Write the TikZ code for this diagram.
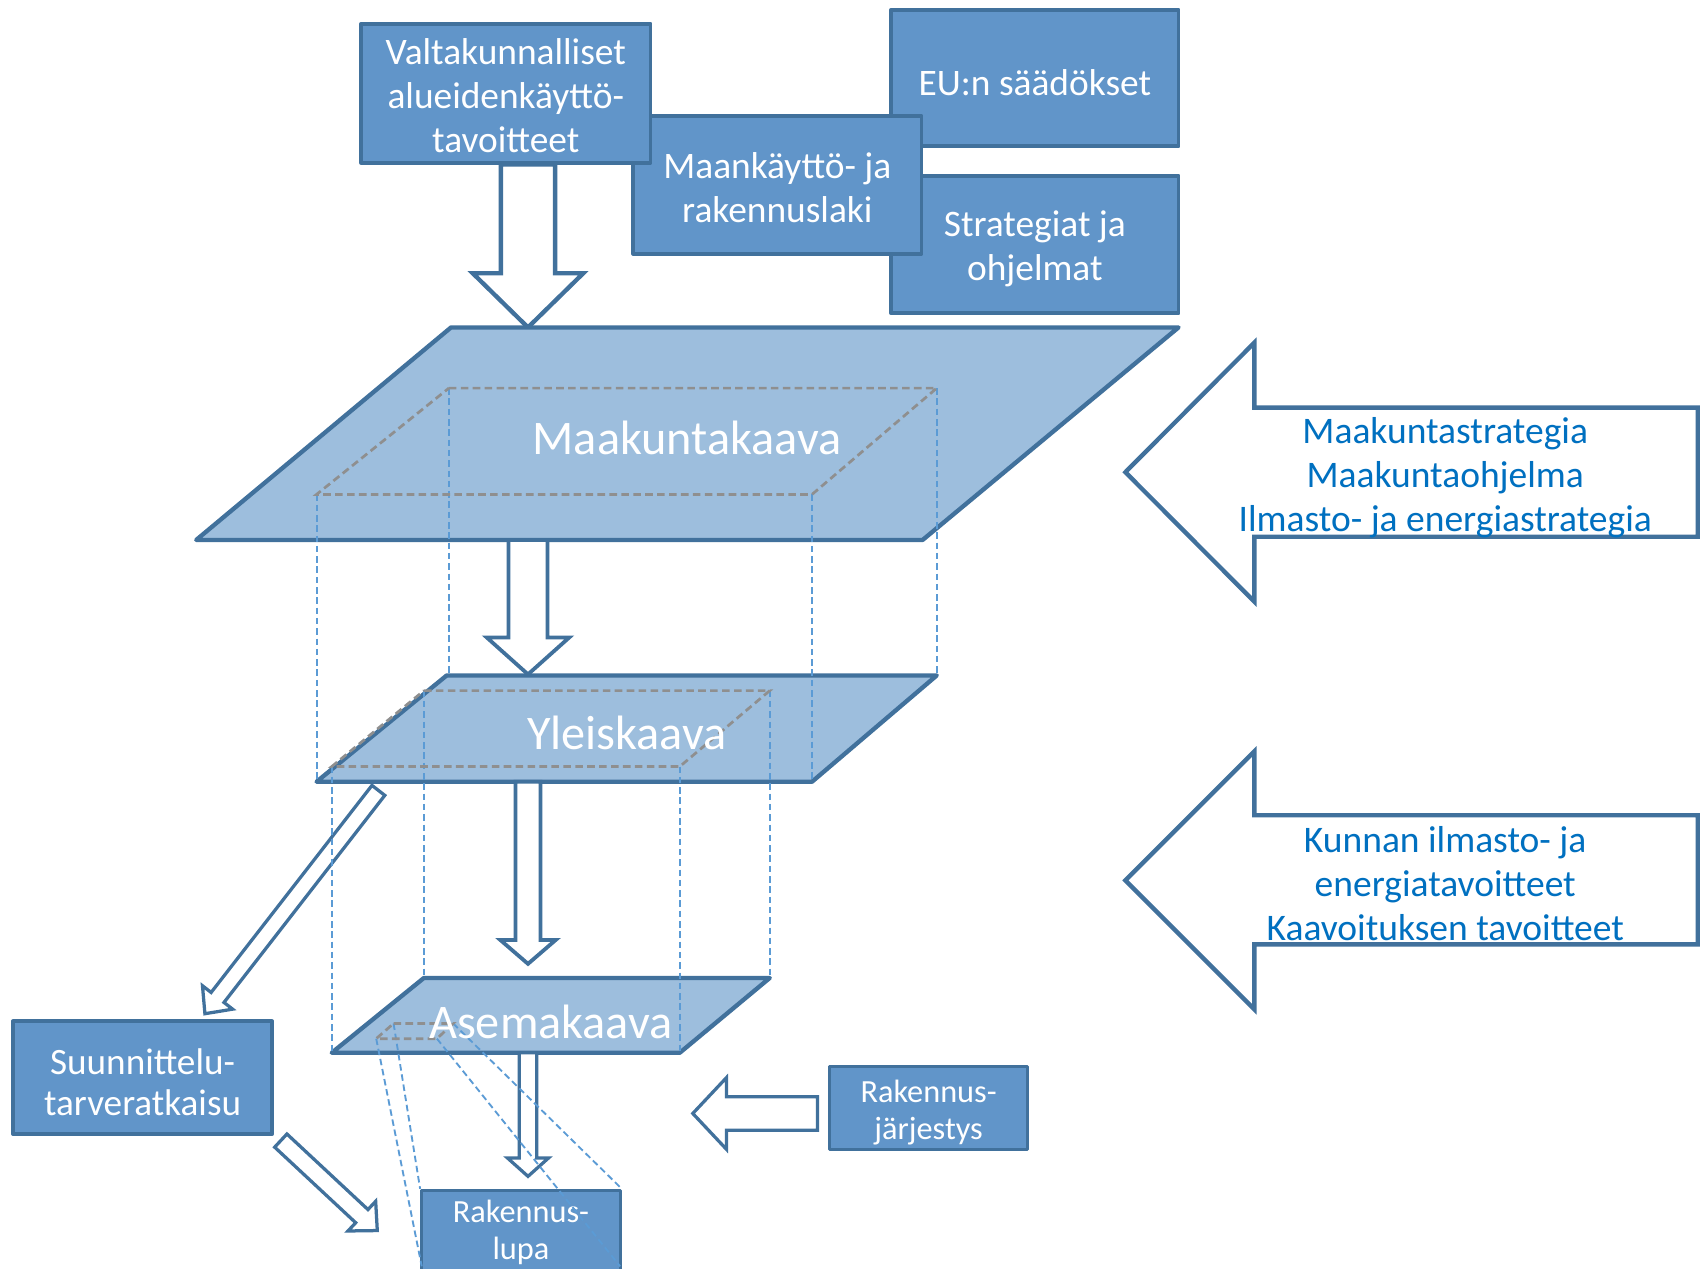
\documentclass[tikz,border=0pt]{standalone}
\usepackage{fontspec}
\setmainfont{Carlito}
\usetikzlibrary{calc}
\definecolor{boxfill}{HTML}{6195C9}
\definecolor{boxline}{HTML}{41719C}
\definecolor{parafill}{HTML}{9DBEDD}
\definecolor{dashblue}{HTML}{5B9BD5}
\definecolor{dashgray}{HTML}{8F8F8F}
\definecolor{txtblue}{HTML}{0070C0}
\newcommand{\fTop}{\fontsize{34.5}{40.5}\selectfont}
\newcommand{\fPlane}{\fontsize{44.5}{52}\selectfont}
\newcommand{\fMid}{\fontsize{34.3}{38.3}\selectfont}
\newcommand{\fSmall}{\fontsize{29.8}{34}\selectfont}
\newcommand{\fArrow}{\fontsize{34.6}{40.7}\selectfont}
% #1 options, #2 name, #3 start, #4 tip, #5 shaft half width, #6 head half width, #7 head length
\newcommand{\blockarr}[7][]{%
  \coordinate (#2h) at ($(#4)!#7!(#3)$);
  \draw[barrow,#1] ($(#3)!#5!90:(#4)$) -- ($(#2h)!#5!90:(#4)$) -- ($(#2h)!#6!90:(#4)$) -- (#4)
    -- ($(#2h)!#6!-90:(#4)$) -- ($(#2h)!#5!-90:(#4)$) -- ($(#3)!#5!-90:(#4)$) -- cycle;
}
\begin{document}
\begin{tikzpicture}[x=1pt,y=-1pt,
  bluebox/.style={draw=boxline, fill=boxfill, line width=3.5pt, line join=round, inner sep=0pt},
  boxtext/.style={text=white, align=center, inner sep=0pt},
  plane/.style={draw=boxline, fill=parafill, line width=4pt, line join=round},
  planetext/.style={text=white, font=\fPlane, anchor=base, inner sep=0pt},
  barrow/.style={draw=boxline, fill=white, line width=3.5pt},
  graydash/.style={draw=dashgray, line width=2.5pt, dash pattern=on 7pt off 4pt},
  bluedash/.style={draw=dashblue, line width=1.7pt, dash pattern=on 6pt off 3.5pt},
  arrowtext/.style={text=txtblue, font=\fArrow, align=center, inner sep=0pt}]
\clip (0,0) rectangle (1568,1170);
\fill[white] (0,0) rectangle (1568,1170);

% top boxes
\node[bluebox, minimum width=265pt, minimum height=126pt] (eu) at (954.5,72) {};
\node[boxtext, font=\fTop] (euT) at ($(eu.center)+(0,4)$) {EU:n säädökset};
\node[bluebox, minimum width=265pt, minimum height=127pt] (strat) at (954.5,225.5) {};
\node[boxtext, font=\fTop] (stratT) at ($(strat.center)+(0,4)$) {Strategiat ja\\ohjelmat};
\node[bluebox, minimum width=266pt, minimum height=127pt] (maan) at (717,170.5) {};
\node[boxtext, font=\fTop] (maanT) at ($(maan.center)+(0,2.5)$) {Maankäyttö- ja\\rakennuslaki};
\node[bluebox, minimum width=267pt, minimum height=128pt] (valt) at (466.5,86) {};
\node[boxtext, font=\fTop] (valtT) at ($(valt.center)+(0,2)$) {Valtakunnalliset\\alueidenkäyttö-\\tavoitteet};

% arrow from national goals
\coordinate (a1s) at (valt.south -| 487,0);
\coordinate (a1t) at (487,302);
\blockarr[line width=4pt]{a1}{a1s}{a1t}{25pt}{51pt}{50pt}

% planes
\draw[plane] (416,302) -- (1087,302) -- (851,498) -- (181,498) -- cycle;
\draw[plane] (412,623) -- (864,623) -- (749,721) -- (292,721) -- cycle;
\draw[plane] (391,902) -- (710,902) -- (627,971) -- (306,971) -- cycle;

% vertical arrows
\coordinate (a2s) at (487,498);
\coordinate (a2t) at (487,622);
\blockarr{a2}{a2s}{a2t}{18pt}{38pt}{34pt}
\coordinate (a3s) at (487,721);
\coordinate (a3t) at (487,889);
\blockarr{a3}{a3s}{a3t}{11.5pt}{25.5pt}{22pt}
\coordinate (a4s) at (487,971);
\coordinate (a4t) at (487,1085);
\blockarr[line width=3pt]{a4}{a4s}{a4t}{8pt}{19pt}{17pt}

% diagonal arrows
\coordinate (a5s) at (349,729);
\coordinate (a5t) at (189,935);
\blockarr[line width=3pt]{a5}{a5s}{a5t}{7.5pt}{17.6pt}{19pt}
\coordinate (a6s) at (259,1052);
\coordinate (a6t) at (348,1135);
\blockarr[line width=3pt]{a6}{a6s}{a6t}{8.3pt}{18.7pt}{19.5pt}

% building ordinance arrow
\coordinate (a7s) at (754,1027);
\coordinate (a7t) at (639,1027);
\blockarr[line width=3pt]{a7}{a7s}{a7t}{15.5pt}{33pt}{31pt}

% lower boxes
\node[bluebox, minimum width=239pt, minimum height=104pt] (suun) at (131.5,994) {};
\node[boxtext, font=\fMid] (suunT) at ($(suun.center)+(0,4)$) {Suunnittelu-\\tarveratkaisu};
\node[bluebox, line width=3pt, minimum width=183pt, minimum height=76pt] (rjar) at (856.5,1022) {};
\node[boxtext, font=\fSmall] (rjarT) at ($(rjar.center)+(0,4.5)$) {Rakennus-\\järjestys};
\node[bluebox, line width=3pt, minimum width=183pt, minimum height=80pt] (rlupa) at (480.5,1138) {};
\node[boxtext, font=\fSmall] (rlupaT) at ($(rlupa.center)+(0,-1)$) {Rakennus-\\lupa};

% big left arrows
\draw[barrow, line width=4pt] (1038,435.5) -- (1157,316) -- (1157,376) -- (1566,376) -- (1566,495) -- (1157,495) -- (1157,555) -- cycle;
\node[arrowtext] (tA) at (1333,440.5) {Maakuntastrategia\\Maakuntaohjelma\\Ilmasto- ja energiastrategia};
\draw[barrow, line width=4pt] (1038,812) -- (1157,693) -- (1157,752) -- (1566,752) -- (1566,871) -- (1157,871) -- (1157,931) -- cycle;
\node[arrowtext] (tB) at (1333,815) {Kunnan ilmasto- ja\\energiatavoitteet\\Kaavoituksen tavoitteet};

% dashed prism lines
\draw[bluedash] (292,456) -- (292,721);
\draw[bluedash] (414,358) -- (414,623);
\draw[bluedash] (749,456) -- (749,721);
\draw[bluedash] (864,358) -- (864,623);
\draw[graydash] (414,358) -- (864,358) -- (749,456) -- (292,456) -- cycle;

\draw[bluedash] (306,707) -- (306,971);
\draw[bluedash] (391,637) -- (391,902);
\draw[bluedash] (627,707) -- (627,971);
\draw[bluedash] (710,637) -- (710,902);
\draw[graydash] (391,637) -- (710,637) -- (627,707) -- (306,707) -- cycle;

\draw[bluedash] (347,958) -- (389,1168);
\draw[bluedash] (363,944) -- (rlupa.north west);
\draw[bluedash] (403,958) -- (572,1168);
\draw[bluedash] (418,944) -- (rlupa.north east);
\draw[graydash] (363,944) -- (418,944) -- (403,958) -- (347,958) -- cycle;

% plane labels
\node[planetext] (mk) at (633.6,419) {Maakuntakaava};
\node[planetext] (yk) at (578,691.5) {Yleiskaava};
\node[planetext] (ak) at (508,957.5) {Asemakaava};
\end{tikzpicture}
\end{document}
